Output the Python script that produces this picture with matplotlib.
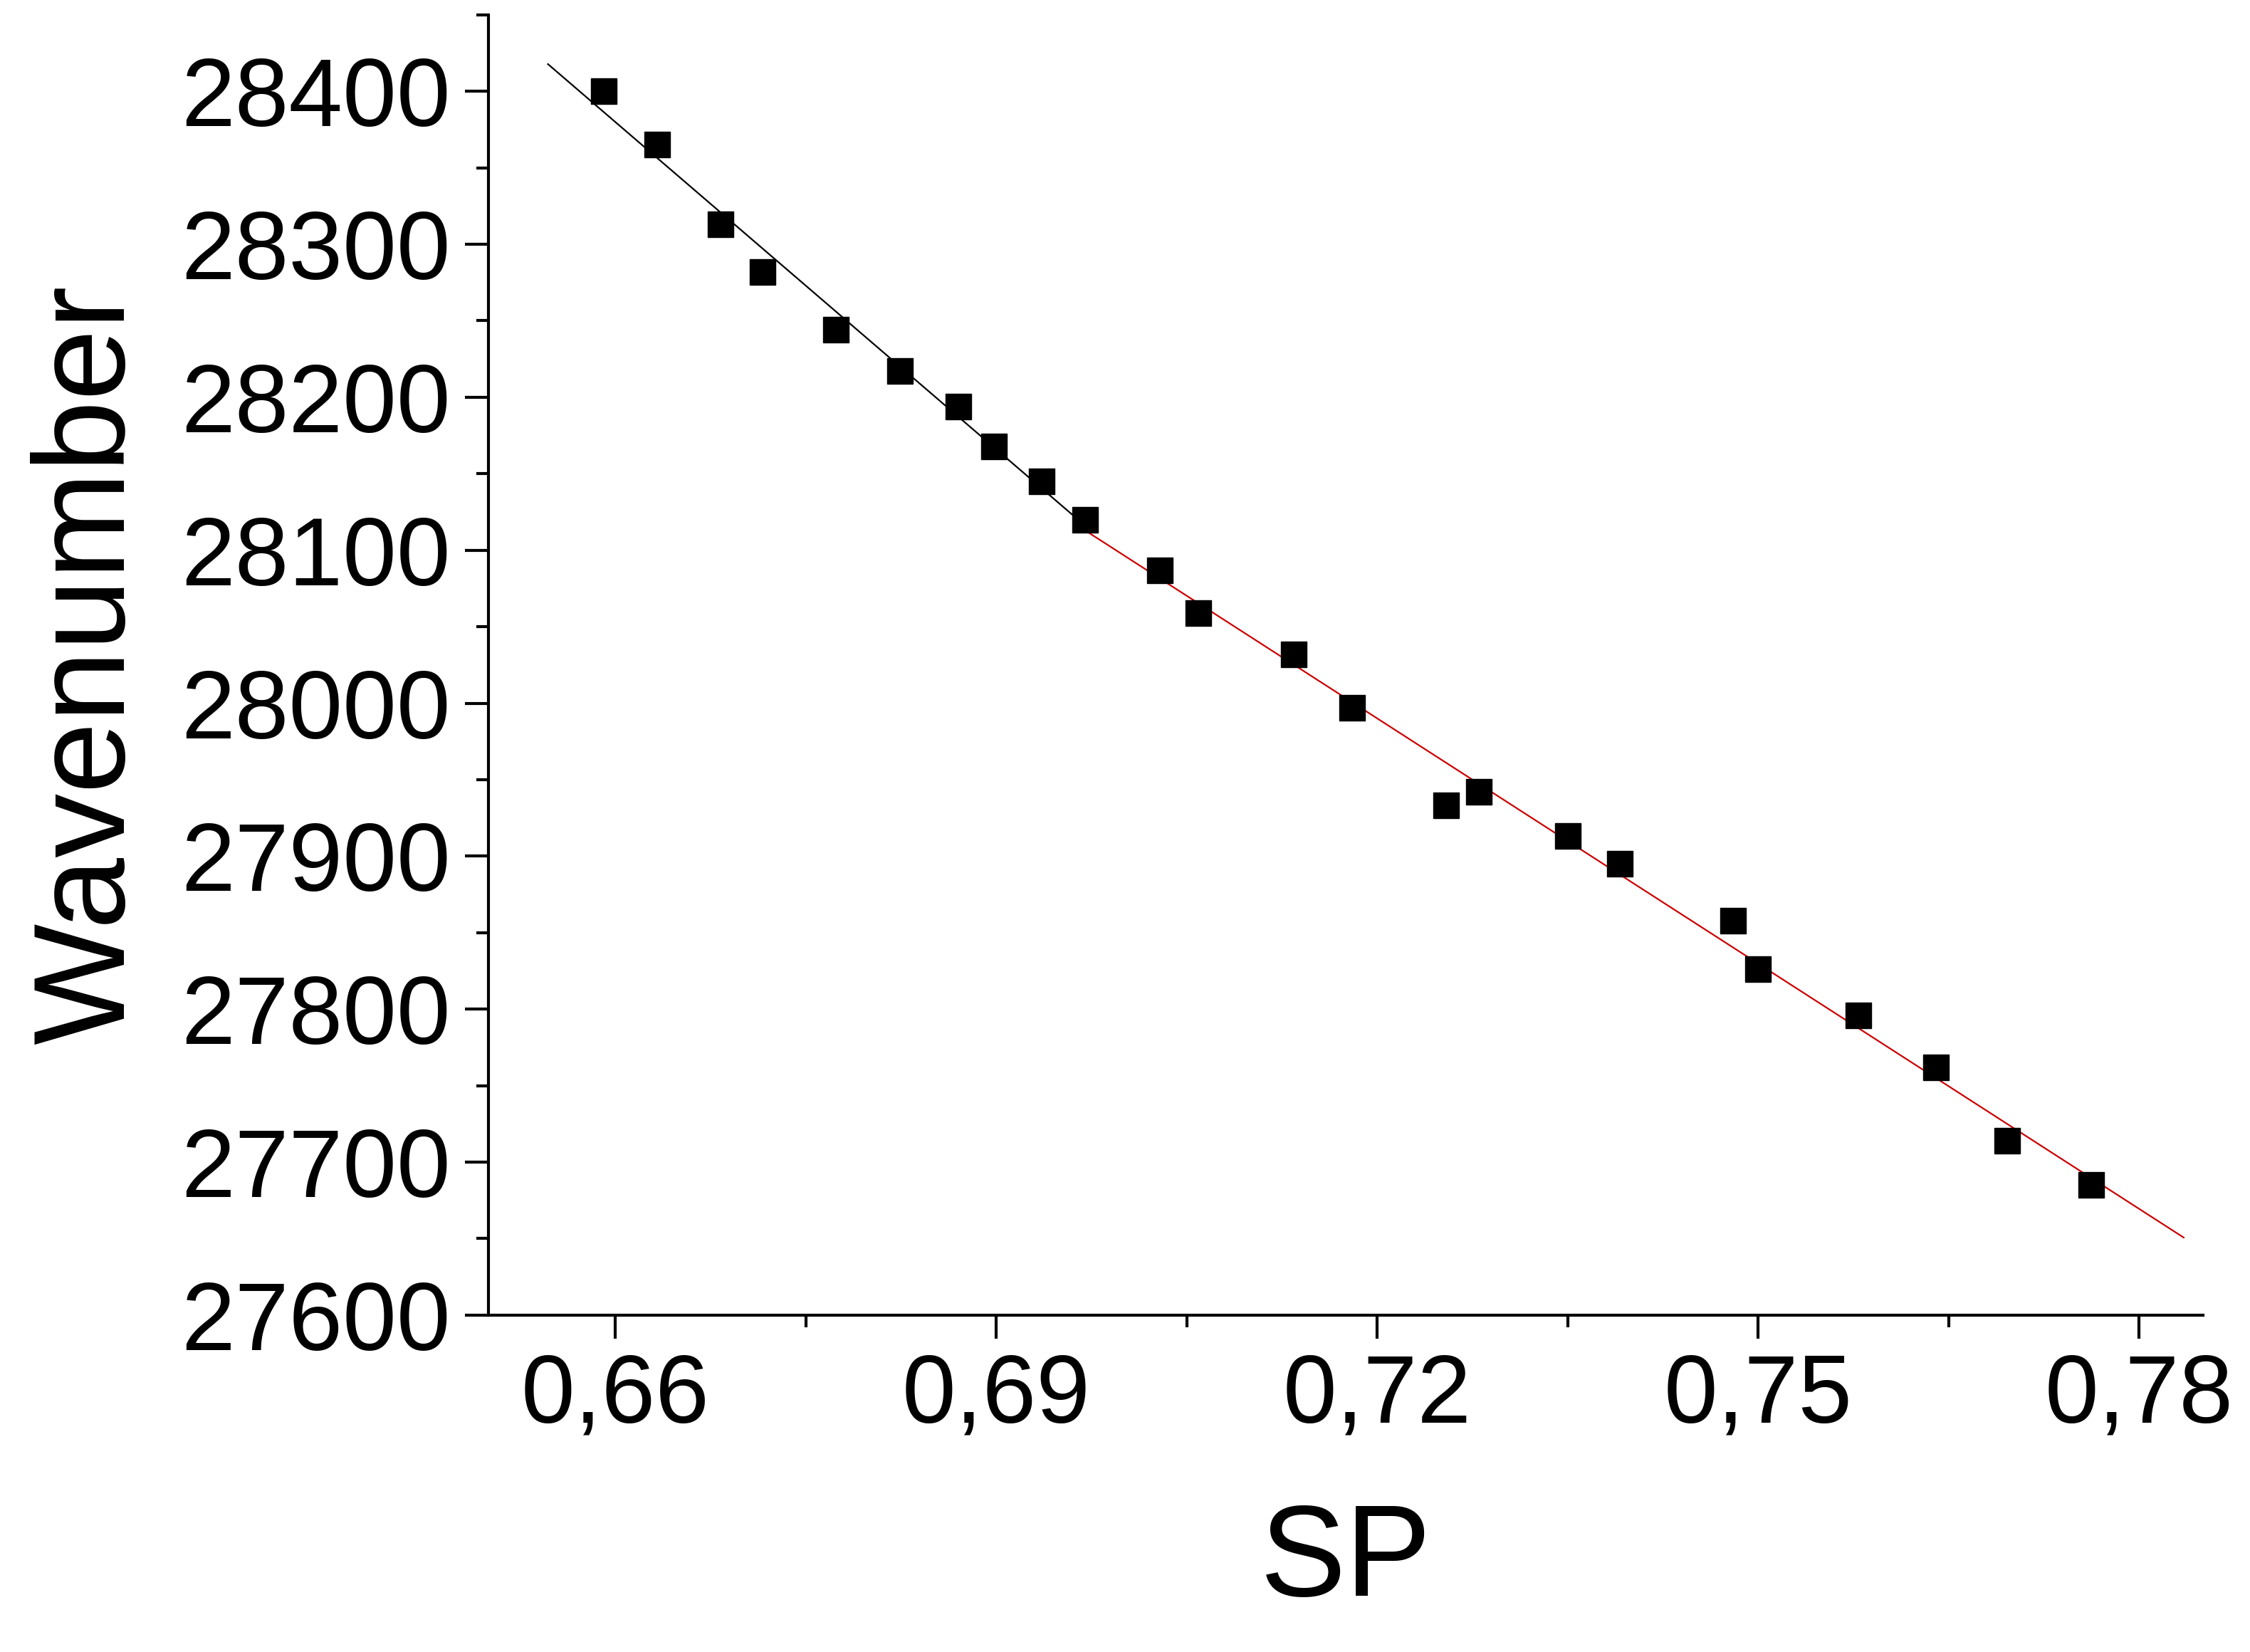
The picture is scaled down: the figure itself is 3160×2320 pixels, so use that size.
import numpy as np
import matplotlib
matplotlib.use("Agg")
import matplotlib.pyplot as plt
from matplotlib.ticker import MultipleLocator, FuncFormatter

plt.rcParams["font.family"] = ["Liberation Sans", "DejaVu Sans"]

sp = [0.6591, 0.6633, 0.6683, 0.6716, 0.6774, 0.6824, 0.6870, 0.6898, 0.6936, 0.6970,
      0.7029, 0.7059, 0.7134, 0.7180, 0.7254, 0.7280, 0.7350, 0.7391, 0.7480, 0.7500,
      0.7579, 0.7640, 0.7696, 0.7762]
wavenumber = [28400, 28365, 28313, 28282, 28244, 28217, 28194, 28168, 28145, 28120,
              28087, 28059, 28032, 27997, 27933, 27942, 27913, 27895, 27858, 27826,
              27796, 27762, 27714, 27685]
split = 10  # first fit (black) on points [:10], second fit (red) on the rest
fit1_range = [0.6547, 0.6970]
fit2_range = [0.6970, 0.7835]

sp = np.array(sp)
wn = np.array(wavenumber)

fig = plt.figure(figsize=(31.6, 23.2), dpi=100)
ax = fig.add_axes([0.217, 0.204, 0.762, 0.787])

p1 = np.polyfit(sp[:split], wn[:split], 1)
p2 = np.polyfit(sp[split - 1:], wn[split - 1:], 1)
x1 = np.array(fit1_range)
x2 = np.array(fit2_range)
ax.plot(x1, np.polyval(p1, x1), color="black", lw=1.6, zorder=2)
ax.plot(x2, np.polyval(p2, x2), color="#cc0000", lw=1.6, zorder=2)
ax.plot(sp, wn, "s", color="black", ms=26, zorder=3)

ax.set_xlim(0.65, 0.785)
ax.set_ylim(27600, 28450)
ax.xaxis.set_major_locator(MultipleLocator(0.03))
ax.xaxis.set_minor_locator(MultipleLocator(0.015))
ax.yaxis.set_major_locator(MultipleLocator(100))
ax.yaxis.set_minor_locator(MultipleLocator(50))
ax.xaxis.set_major_formatter(FuncFormatter(lambda v, _: f"{v:.2f}".replace(".", ",")))
ax.set_xlim(0.65, 0.785)

for s in ("top", "right"):
    ax.spines[s].set_visible(False)
for s in ("left", "bottom"):
    ax.spines[s].set_linewidth(3)
ax.tick_params(which="major", direction="out", length=24, width=3, labelsize=98, pad=14)
ax.tick_params(which="minor", direction="out", length=12, width=3)

ax.set_xlabel("SP", fontsize=130, labelpad=60)
ax.set_ylabel("Wavenumber", fontsize=130, labelpad=30)

fig.savefig("out.png", dpi=100)
